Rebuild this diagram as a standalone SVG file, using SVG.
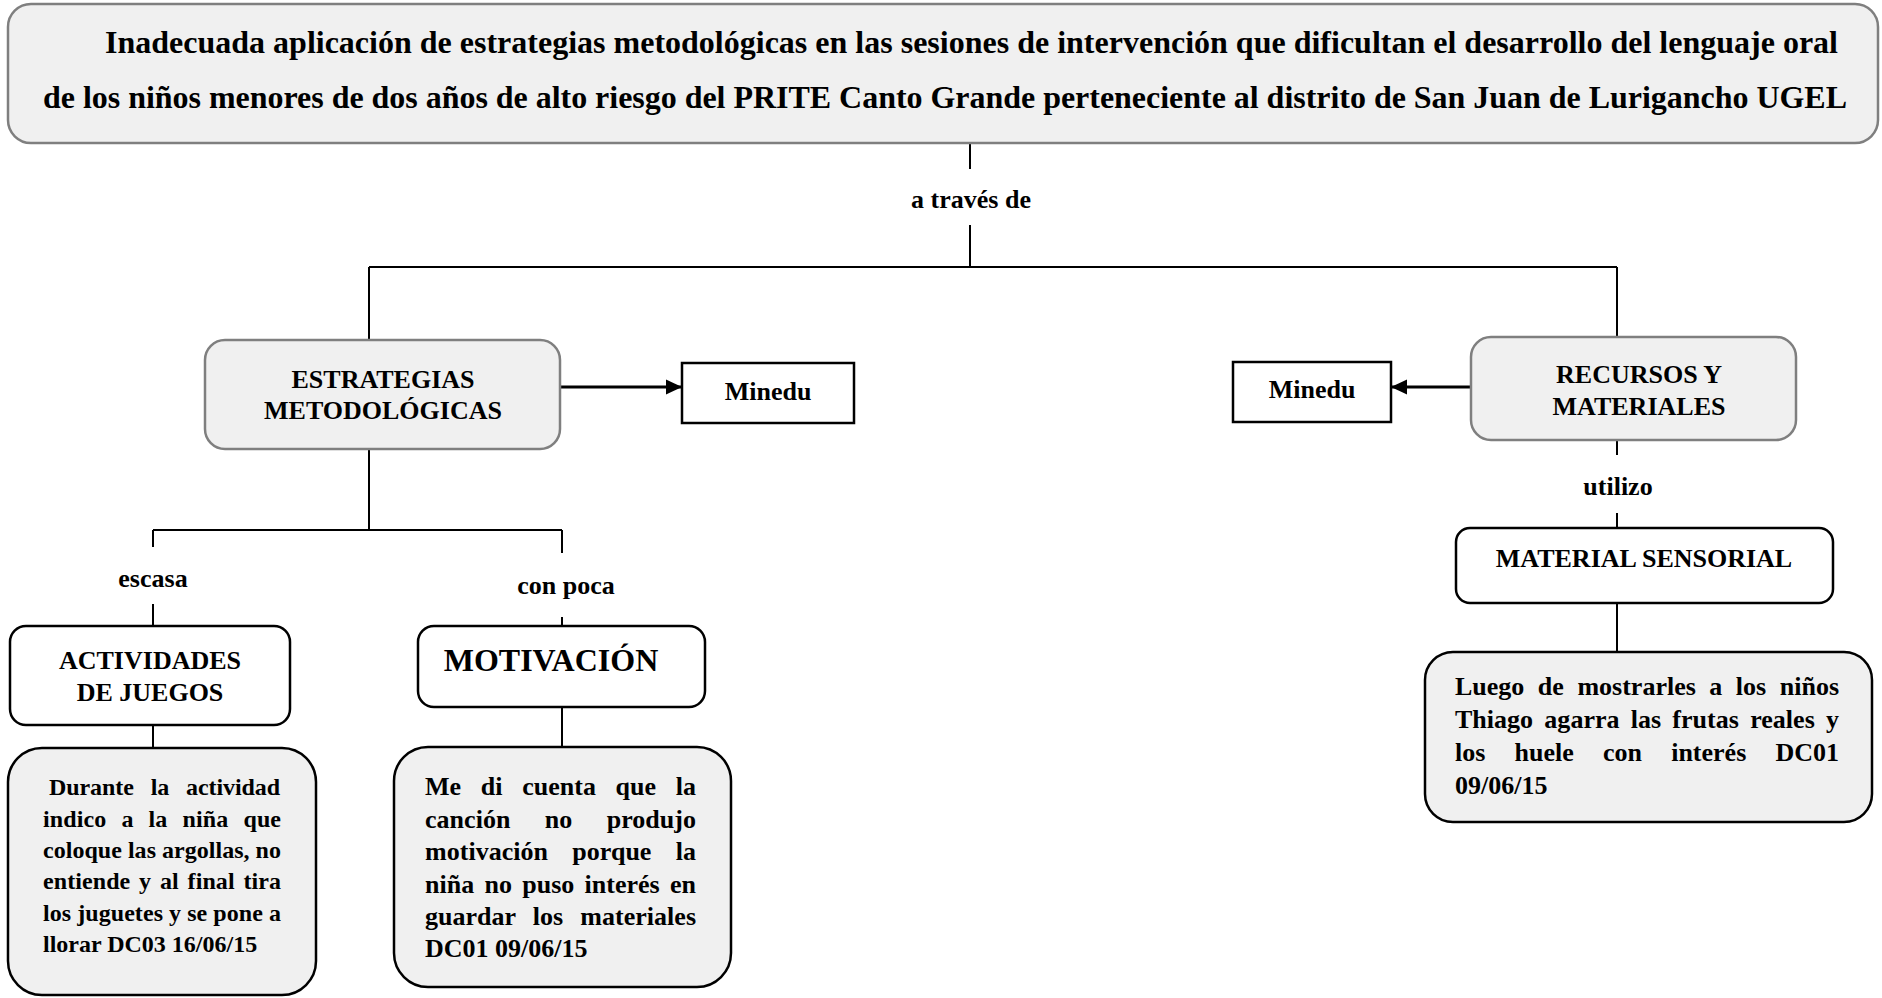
<svg xmlns="http://www.w3.org/2000/svg" width="1882" height="998" viewBox="0 0 1882 998">
<style>
text{font-family:"Liberation Serif","Times New Roman",serif;font-weight:bold;fill:#000}
.t32{font-size:32px}
.t26{font-size:26px}
.t24{font-size:24px}
.c{text-anchor:middle}
.gray{fill:#f0f0f0;stroke:#7f7f7f;stroke-width:2.5}
.wbox{fill:#fff;stroke:#000;stroke-width:2.5}
.note{fill:#f0f0f0;stroke:#000;stroke-width:2.5}
.ln{stroke:#000;stroke-width:2;fill:none}
.ar{stroke:#000;stroke-width:3;fill:none}
</style>
<defs>
<marker id="ah" viewBox="0 0 16 16" refX="16" refY="8" markerWidth="16" markerHeight="16" markerUnits="userSpaceOnUse" orient="auto">
<path d="M0,0.5 L16,8 L0,15.5 Z" fill="#000"/>
</marker>
</defs>
<rect width="1882" height="998" fill="#fff"/>

<g id="connectors">
<line class="ln" x1="970" y1="143" x2="970" y2="169"/>
<text class="t26 c" x="971" y="208">a través de</text>
<line class="ln" x1="970" y1="225" x2="970" y2="267"/>
<line class="ln" x1="369" y1="267" x2="1617" y2="267"/>
<line class="ln" x1="369" y1="267" x2="369" y2="340"/>
<line class="ln" x1="1617" y1="267" x2="1617" y2="337"/>
<line class="ar" x1="561" y1="387" x2="682" y2="387" marker-end="url(#ah)"/>
<line class="ar" x1="1472" y1="387" x2="1391" y2="387" marker-end="url(#ah)"/>
<line class="ln" x1="369" y1="449" x2="369" y2="530"/>
<line class="ln" x1="153" y1="530" x2="562" y2="530"/>
<line class="ln" x1="153" y1="530" x2="153" y2="547"/>
<line class="ln" x1="562" y1="530" x2="562" y2="553"/>
<text class="t26 c" x="153" y="587">escasa</text>
<text class="t26 c" x="566" y="594">con poca</text>
<line class="ln" x1="153" y1="604" x2="153" y2="626"/>
<line class="ln" x1="562" y1="617" x2="562" y2="626"/>
<line class="ln" x1="153" y1="725" x2="153" y2="748"/>
<line class="ln" x1="562" y1="707" x2="562" y2="747"/>
<line class="ln" x1="1617" y1="440" x2="1617" y2="455"/>
<text class="t26 c" x="1618" y="495">utilizo</text>
<line class="ln" x1="1617" y1="513" x2="1617" y2="528"/>
<line class="ln" x1="1617" y1="603" x2="1617" y2="652"/>
</g>

<g id="titulo">
<rect class="gray" x="8" y="4" width="1870" height="139" rx="23" ry="23" fill="#f2f2f2"/>
<text class="t32" x="105" y="53" textLength="1733">Inadecuada aplicación de estrategias metodológicas en las sesiones de intervención que dificultan el desarrollo del lenguaje oral</text>
<text class="t32" x="43" y="108" textLength="1804">de los niños menores de dos años de alto riesgo del PRITE Canto Grande perteneciente al distrito de San Juan de Lurigancho UGEL</text>
</g>

<g id="estrategias">
<rect class="gray" x="205" y="340" width="355" height="109" rx="20" ry="20"/>
<text class="t26 c" x="383" y="388">ESTRATEGIAS</text>
<text class="t26 c" x="383" y="419">METODOLÓGICAS</text>
</g>

<g id="minedu1">
<rect class="wbox" x="682" y="363" width="172" height="60"/>
<text class="t26 c" x="768" y="400">Minedu</text>
</g>

<g id="recursos">
<rect class="gray" x="1471" y="337" width="325" height="103" rx="20" ry="20"/>
<text class="t26 c" x="1639" y="383">RECURSOS Y</text>
<text class="t26 c" x="1639" y="415">MATERIALES</text>
</g>

<g id="minedu2">
<rect class="wbox" x="1233" y="362" width="158" height="60"/>
<text class="t26 c" x="1312" y="398">Minedu</text>
</g>

<g id="actividades">
<rect class="wbox" x="10" y="626" width="280" height="99" rx="16" ry="16"/>
<text class="t26 c" x="150" y="669">ACTIVIDADES</text>
<text class="t26 c" x="150" y="701">DE JUEGOS</text>
</g>

<g id="motivacion">
<rect class="wbox" x="418" y="626" width="287" height="81" rx="16" ry="16"/>
<text class="t32 c" x="551" y="671">MOTIVACIÓN</text>
</g>

<g id="material">
<rect class="wbox" x="1456" y="528" width="377" height="75" rx="14" ry="14"/>
<text class="t26 c" x="1644" y="567">MATERIAL SENSORIAL</text>
</g>

<g id="nota-durante">
<rect class="note" x="8" y="748" width="308" height="247" rx="34" ry="34"/>
<text class="t24" x="49" y="795" word-spacing="11" textLength="231">Durante la actividad</text>
<text class="t24" x="43" y="827" word-spacing="9" textLength="238">indico a la niña que</text>
<text class="t24" x="43" y="858" textLength="238">coloque las argollas, no</text>
<text class="t24" x="43" y="889" word-spacing="2.7" textLength="238">entiende y al final tira</text>
<text class="t24" x="43" y="921" textLength="238">los juguetes y se pone a</text>
<text class="t24" x="43" y="952">llorar DC03 16/06/15</text>
</g>

<g id="nota-cancion">
<rect class="note" x="394" y="747" width="337" height="240" rx="34" ry="34"/>
<text class="t26" x="425" y="795" word-spacing="13.2" textLength="271">Me di cuenta que la</text>
<text class="t26" x="425" y="828" word-spacing="27.9" textLength="271">canción no produjo</text>
<text class="t26" x="425" y="860" word-spacing="17.8" textLength="271">motivación porque la</text>
<text class="t26" x="425" y="893" word-spacing="3.8" textLength="271">niña no puso interés en</text>
<text class="t26" x="425" y="925" word-spacing="10.6" textLength="271">guardar los materiales</text>
<text class="t26" x="425" y="957">DC01 09/06/15</text>
</g>

<g id="nota-frutas">
<rect class="note" x="1425" y="652" width="447" height="170" rx="28" ry="28"/>
<text class="t26" x="1455" y="695" word-spacing="7" textLength="384">Luego de mostrarles a los niños</text>
<text class="t26" x="1455" y="728" word-spacing="4.7" textLength="384">Thiago agarra las frutas reales y</text>
<text class="t26" x="1455" y="761" word-spacing="22.7" textLength="384">los huele con interés DC01</text>
<text class="t26" x="1455" y="794">09/06/15</text>
</g>
</svg>
